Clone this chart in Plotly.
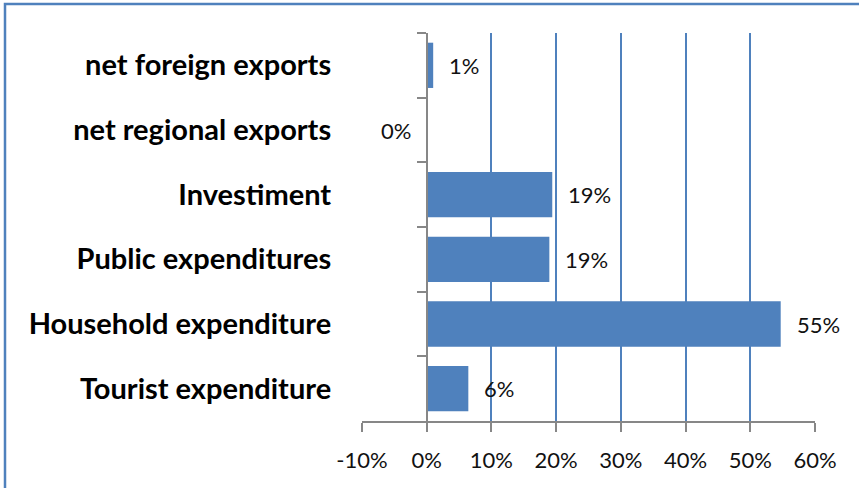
import plotly.graph_objects as go

# GDP demand components (share of total), listed top to bottom
categories = [
    "net foreign exports",
    "net regional exports",
    "Investiment",
    "Public expenditures",
    "Household expenditure",
    "Tourist expenditure",
]
shares = [1.0, 0.0, 19.4, 18.95, 54.7, 6.43]

x_ticks = [-10, 0, 10, 20, 30, 40, 50, 60]
x_tick_labels = [f"{t}%" for t in x_ticks]

BLUE = "#4F81BD"
GRAY = "#878787"
FONT = "Lato, Calibri, Carlito, sans-serif"

W, H = 859, 488
L, R, T, B = 362, 44, 33, 67

fig = go.Figure(
    go.Bar(
        x=shares,
        y=categories,
        orientation="h",
        marker=dict(color=BLUE, line=dict(width=0)),
        width=0.7,
        hoverinfo="x+y",
    )
)

# value labels beside each bar end (left of the axis when the value is not positive)
annotations = []
for cat, v in zip(categories, shares):
    pos = v > 0
    annotations.append(
        dict(
            x=v, y=cat, xref="x", yref="y",
            text=f"{round(v)}%",
            showarrow=False,
            xanchor="left" if pos else "right",
            xshift=14 if pos else -14,
            font=dict(family=FONT, size=22, color="#111111"),
        )
    )

plot_w = W - L - R
plot_h = H - T - B

def px_to_paper_x(px):
    return (px - L) / plot_w

def px_to_paper_y(py):
    return (H - B - py) / plot_h

# frame around the chart area
shapes = [
    dict(
        type="rect", xref="paper", yref="paper",
        x0=px_to_paper_x(5), x1=px_to_paper_x(880),
        y0=px_to_paper_y(520), y1=px_to_paper_y(4),
        line=dict(color=BLUE, width=2.5),
        fillcolor="rgba(0,0,0,0)",
        layer="below",
    )
]

x_min, x_max = -10, 60
fig.update_layout(
    width=W, height=H,
    margin=dict(l=L, r=R, t=T, b=B, pad=0),
    paper_bgcolor="white",
    plot_bgcolor="white",
    showlegend=False,
    bargap=0.3,
    annotations=annotations,
    shapes=shapes,
    xaxis=dict(
        range=[x_min, x_max],
        tickvals=x_ticks,
        ticktext=x_tick_labels,
        showgrid=True,
        gridcolor=BLUE,
        gridwidth=2,
        zeroline=False,
        showline=True,
        linecolor=GRAY,
        linewidth=1.5,
        ticks="outside",
        ticklen=9,
        tickwidth=1.5,
        tickcolor=GRAY,
        ticklabelstandoff=10,
        tickfont=dict(family=FONT, size=22, color="#111111"),
        fixedrange=True,
    ),
    yaxis=dict(
        autorange="reversed",
        anchor="free",
        position=(0 - x_min) / (x_max - x_min),
        showline=True,
        linecolor=GRAY,
        linewidth=1.5,
        showgrid=False,
        zeroline=False,
        ticks="outside",
        tickson="boundaries",
        ticklen=9,
        tickwidth=1.5,
        tickcolor=GRAY,
        ticklabelstandoff=89,
        tickfont=dict(family=FONT, size=29, color="#000000", weight="bold"),
        fixedrange=True,
    ),
)

fig.write_html("out.html")
